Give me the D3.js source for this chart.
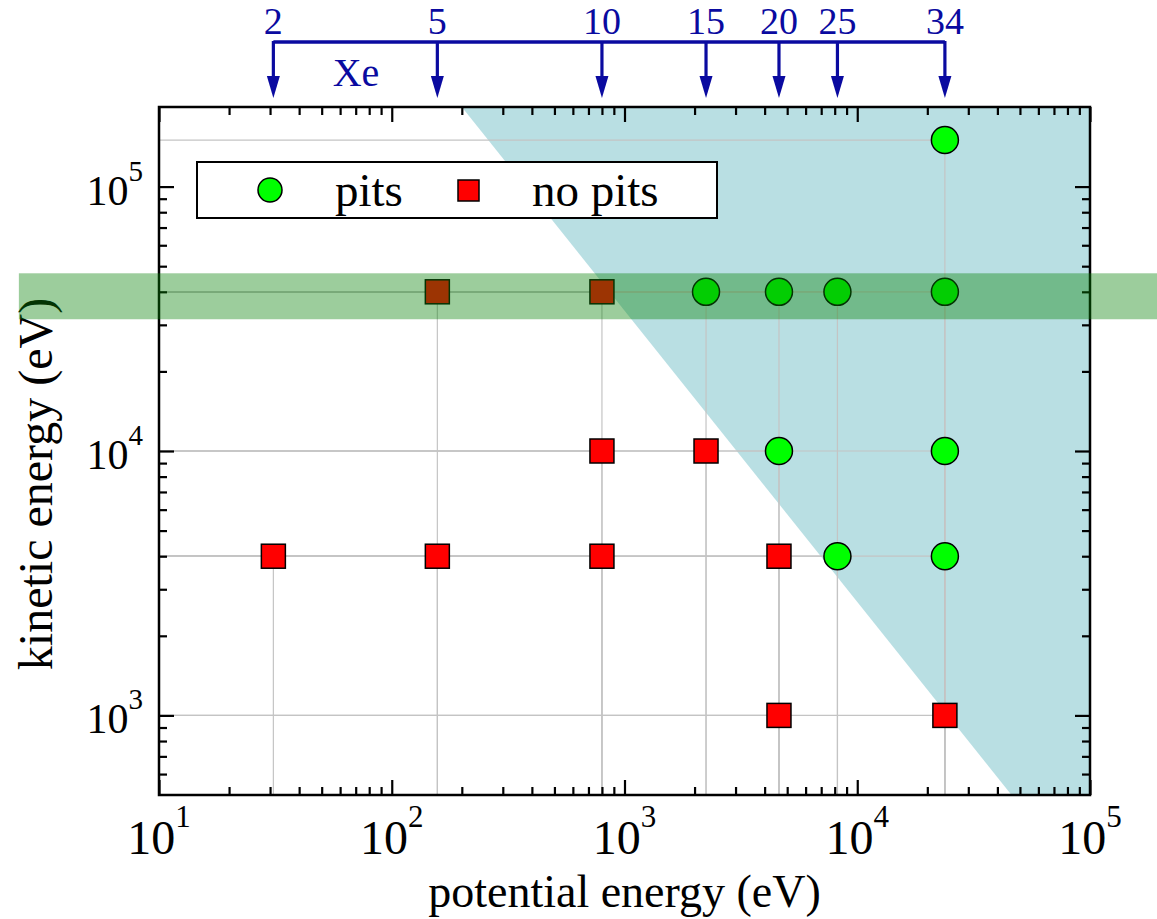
<!DOCTYPE html>
<html>
<head>
<meta charset="utf-8">
<script src="https://cdn.jsdelivr.net/npm/d3@7"></script>
<style>
  body { margin: 0; background: #fff; }
  svg text { font-family: "Liberation Serif", "Times New Roman", serif; }
</style>
</head>
<body>
<div id="chart"></div>
<script>
// Xe charge states and their potential energies (eV)
const chargeStates = [2, 5, 10, 15, 20, 25, 34];
const potentialEnergy = [31, 157, 800, 2240, 4610, 8220, 23800];

// pits
const pitsPE = [23800, 2240, 4610, 8220, 23800, 4610, 23800, 8220, 23800];
const pitsKE = [1.5e5, 4e4, 4e4, 4e4, 4e4, 1e4, 1e4, 4e3, 4e3];
// no pits
const noPitsPE = [157, 800, 800, 2240, 31, 157, 800, 4610, 4610, 23800];
const noPitsKE = [4e4, 4e4, 1e4, 1e4, 4e3, 4e3, 4e3, 4e3, 1e3, 1e3];

// shaded regions
const pitRegionPE = [200, 1e5, 1e5, 46000];
const pitRegionKE = [2e5, 2e5, 500, 500];
const bandPE = [2.5, 1.95e5];
const bandKE = [3.15e4, 4.7e4];

const xTicks = [10, 100, 1000, 10000, 100000];
const yTicks = [1000, 10000, 100000];

const W = 1157, H = 919;
const L = 159, R = 1090, T = 107, B = 795;
const blue = "#0a0aa0";

const svg = d3.select("#chart").append("svg")
  .attr("width", W).attr("height", H);

const x = d3.scaleLog().domain([10, 1e5]).range([L, R]);
const y = d3.scaleLog().domain([500, 2e5]).range([B, T]);

// pit region (teal)
svg.append("path")
  .attr("d", d3.line()(pitRegionPE.map((d, i) => [x(d), y(pitRegionKE[i])])) + "Z")
  .attr("fill", "#b9dfe3");

// drop lines
const allPts = pitsPE.map((d, i) => [d, pitsKE[i]])
  .concat(noPitsPE.map((d, i) => [d, noPitsKE[i]]));
const drops = svg.append("g").attr("stroke", "#c4c4c4").attr("stroke-width", 1.2);
allPts.forEach(p => {
  drops.append("line").attr("x1", x(10)).attr("x2", x(p[0]))
    .attr("y1", y(p[1])).attr("y2", y(p[1]));
  drops.append("line").attr("x1", x(p[0])).attr("x2", x(p[0]))
    .attr("y1", y(p[1])).attr("y2", y(500));
});

// markers
svg.append("g").selectAll("rect")
  .data(noPitsPE.map((d, i) => [d, noPitsKE[i]]))
  .enter().append("rect")
    .attr("x", d => x(d[0]) - 12).attr("y", d => y(d[1]) - 12)
    .attr("width", 24).attr("height", 24)
    .attr("fill", "#ff0000").attr("stroke", "#000").attr("stroke-width", 1.5);
svg.append("g").selectAll("circle")
  .data(pitsPE.map((d, i) => [d, pitsKE[i]]))
  .enter().append("circle")
    .attr("cx", d => x(d[0])).attr("cy", d => y(d[1])).attr("r", 13.5)
    .attr("fill", "#00ff00").attr("stroke", "#000").attr("stroke-width", 1.5);

// axes (ticks inside, on all four sides)
const minorX = [], minorY = [];
[10, 100, 1000, 10000].forEach(p => d3.range(2, 10).forEach(k => minorX.push(p * k)));
[100, 1000, 10000, 100000].forEach(p => d3.range(2, 10).forEach(k => {
  const v = p * k; if (v > 500 && v < 2e5) minorY.push(v);
}));

function axisPair(axisFn, scale, pos) {
  const isX = scale === x;
  const g1 = svg.append("g").attr("transform", pos)
    .call(axisFn(scale).tickValues(isX ? minorX : minorY)
      .tickSize(-8).tickSizeOuter(0).tickFormat(""));
  const g2 = svg.append("g").attr("transform", pos)
    .call(axisFn(scale).tickValues(isX ? xTicks : yTicks)
      .tickSize(-15).tickSizeOuter(0).tickFormat(""));
  [g1, g2].forEach(g => {
    g.select(".domain").remove();
    g.selectAll(".tick line").attr("stroke", "#000").attr("stroke-width", 2.2);
  });
}
axisPair(d3.axisBottom, x, `translate(0,${B})`);
axisPair(d3.axisTop, x, `translate(0,${T})`);
axisPair(d3.axisLeft, y, `translate(${L},0)`);
axisPair(d3.axisRight, y, `translate(${R},0)`);

svg.append("rect").attr("x", L).attr("y", T)
  .attr("width", R - L).attr("height", B - T)
  .attr("fill", "none").attr("stroke", "#000").attr("stroke-width", 2.5);

// tick labels
xTicks.forEach(v => {
  const t = svg.append("text").attr("x", x(v)).attr("y", 854)
    .attr("text-anchor", "middle").attr("font-size", 48);
  t.append("tspan").text("10");
  t.append("tspan").attr("dy", -27).attr("font-size", 31).text(Math.round(Math.log10(v)));
});
yTicks.forEach(v => {
  const t = svg.append("text").attr("x", 143).attr("y", y(v) + 18)
    .attr("text-anchor", "end").attr("font-size", 42);
  t.append("tspan").text("10");
  t.append("tspan").attr("dy", -24).attr("font-size", 29).text(Math.round(Math.log10(v)));
});

// axis titles
svg.append("text").attr("x", (L + R) / 2).attr("y", 907)
  .attr("text-anchor", "middle").attr("font-size", 46)
  .text("potential energy (eV)");
svg.append("text").attr("transform", `translate(52,${(T + B) / 2 + 33}) rotate(-90)`)
  .attr("text-anchor", "middle").attr("font-size", 48)
  .text("kinetic energy (eV)");

// green band on top
svg.append("rect")
  .attr("x", x(bandPE[0])).attr("width", x(bandPE[1]) - x(bandPE[0]))
  .attr("y", y(bandKE[1])).attr("height", y(bandKE[0]) - y(bandKE[1]))
  .attr("fill", "rgb(8,130,8)").attr("fill-opacity", 0.4);

// legend
const lg = svg.append("g");
lg.append("rect").attr("x", 197).attr("y", 162).attr("width", 520).attr("height", 56)
  .attr("fill", "#fff").attr("stroke", "#000").attr("stroke-width", 2);
lg.append("circle").attr("cx", 270).attr("cy", 190).attr("r", 12)
  .attr("fill", "#00ff00").attr("stroke", "#000").attr("stroke-width", 1.5);
lg.append("text").attr("x", 335).attr("y", 206).attr("font-size", 47).text("pits");
lg.append("rect").attr("x", 458).attr("y", 180).attr("width", 21).attr("height", 21)
  .attr("fill", "#ff0000").attr("stroke", "#000").attr("stroke-width", 1.5);
lg.append("text").attr("x", 532).attr("y", 206).attr("font-size", 47).text("no pits");

// charge state annotation
const ann = svg.append("g");
ann.append("line")
  .attr("x1", x(d3.min(potentialEnergy))).attr("x2", x(d3.max(potentialEnergy)))
  .attr("y1", 42).attr("y2", 42)
  .attr("stroke", blue).attr("stroke-width", 3.5);
potentialEnergy.forEach((pe, i) => {
  const cx = x(pe);
  ann.append("line").attr("x1", cx).attr("x2", cx).attr("y1", 41).attr("y2", 80)
    .attr("stroke", blue).attr("stroke-width", 3.2);
  ann.append("path")
    .attr("d", `M${cx - 6.5},76 L${cx + 6.5},76 L${cx},98 Z`)
    .attr("fill", blue);
  ann.append("text").attr("x", cx).attr("y", 34)
    .attr("text-anchor", "middle").attr("font-size", 38).attr("fill", blue)
    .text(chargeStates[i]);
});
ann.append("text").attr("x", 356).attr("y", 86)
  .attr("text-anchor", "middle").attr("font-size", 40).attr("fill", blue)
  .text("Xe");
</script>
</body>
</html>
